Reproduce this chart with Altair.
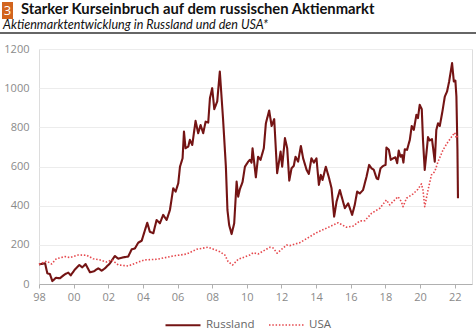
import altair as alt
import pandas as pd

ru_year = [1998.00, 1998.35, 1998.48, 1998.63, 1998.77, 1998.98, 1999.20, 1999.50, 1999.69, 1999.83,
           2000.08, 2000.33, 2000.50, 2000.69, 2000.94, 2001.17, 2001.42, 2001.62, 2001.81, 2002.10,
           2002.38, 2002.58, 2002.86, 2003.15, 2003.35, 2003.54, 2003.73, 2003.93, 2004.25, 2004.40,
           2004.60, 2004.79, 2004.98, 2005.17, 2005.37, 2005.56, 2005.75, 2005.89, 2006.04, 2006.14,
           2006.29, 2006.37, 2006.46, 2006.62, 2006.71, 2006.85, 2007.04, 2007.19, 2007.33, 2007.48,
           2007.62, 2007.77, 2007.87, 2008.00, 2008.12, 2008.29, 2008.44, 2008.63, 2008.79, 2008.88,
           2008.98, 2009.12, 2009.27, 2009.41, 2009.50, 2009.60, 2009.75, 2009.89, 2010.08, 2010.17,
           2010.27, 2010.33, 2010.52, 2010.65, 2010.79, 2010.98, 2011.10, 2011.29, 2011.43, 2011.58,
           2011.75, 2011.95, 2012.04, 2012.20, 2012.33, 2012.45, 2012.58, 2012.71, 2012.81, 2012.96,
           2013.12, 2013.25, 2013.45, 2013.58, 2013.73, 2013.87, 2014.02, 2014.16, 2014.27, 2014.37,
           2014.56, 2014.75, 2014.89, 2015.04, 2015.18, 2015.37, 2015.50, 2015.66, 2015.85, 2016.08,
           2016.23, 2016.37, 2016.52, 2016.71, 2016.81, 2016.91, 2017.06, 2017.20, 2017.33, 2017.49,
           2017.58, 2017.72, 2017.87, 2018.01, 2018.06, 2018.20, 2018.31, 2018.45, 2018.58, 2018.68,
           2018.77, 2018.87, 2018.96, 2019.04, 2019.12, 2019.25, 2019.41, 2019.52, 2019.64, 2019.79,
           2019.88, 2019.98, 2020.10, 2020.17, 2020.27, 2020.37, 2020.46, 2020.56, 2020.69, 2020.85,
           2020.94, 2021.04, 2021.14, 2021.29, 2021.43, 2021.56, 2021.68, 2021.85, 2021.95, 2022.04,
           2022.10, 2022.16, 2022.19]
ru_value = [100, 106, 55, 51, 15, 32, 29, 50, 58, 44,
            75, 97, 85, 102, 60, 65, 80, 68, 80, 106,
            143, 129, 136, 140, 177, 182, 211, 221, 313, 267,
            259, 327, 310, 353, 327, 378, 489, 472, 514, 599,
            642, 778, 693, 702, 736, 710, 833, 770, 812, 770,
            829, 824, 949, 1000, 893, 932, 1085, 838, 599, 378,
            301, 255, 310, 523, 446, 485, 520, 599, 625, 634,
            620, 693, 545, 650, 634, 693, 821, 886, 807, 842,
            566, 676, 599, 745, 693, 528, 591, 603, 650, 625,
            705, 642, 583, 562, 642, 620, 642, 506, 557, 531,
            599, 540, 489, 344, 421, 480, 438, 387, 412, 353,
            404, 472, 462, 480, 514, 548, 608, 591, 583, 540,
            535, 591, 603, 608, 697, 685, 634, 642, 647, 617,
            681, 650, 659, 620, 688, 685, 736, 807, 787, 864,
            847, 915, 893, 736, 583, 668, 750, 733, 740, 625,
            787, 821, 807, 880, 957, 983, 1034, 1128, 1034, 1039,
            957, 685, 438]

us_year = [1998.00, 1998.44, 1998.73, 1999.00, 1999.50, 1999.79, 2000.27, 2000.75, 2001.13, 2001.52,
           2001.90, 2002.20, 2002.58, 2003.15, 2003.64, 2004.10, 2004.79, 2005.75, 2006.52, 2007.10,
           2007.77, 2008.44, 2008.73, 2008.92, 2009.18, 2009.50, 2010.17, 2010.37, 2010.65, 2011.33,
           2011.52, 2011.75, 2012.29, 2012.48, 2013.06, 2014.02, 2014.79, 2015.27, 2015.75, 2016.14,
           2016.52, 2016.81, 2017.20, 2017.68, 2018.06, 2018.25, 2018.73, 2018.92, 2019.02, 2019.22,
           2019.60, 2019.88, 2020.08, 2020.17, 2020.27, 2020.46, 2020.66, 2020.85, 2021.04, 2021.33,
           2021.56, 2021.81, 2022.00, 2022.10, 2022.19]
us_value = [100, 117, 102, 129, 140, 135, 148, 147, 129, 123,
            112, 123, 97, 92, 109, 123, 126, 143, 153, 177,
            188, 165, 148, 114, 97, 126, 148, 160, 153, 188,
            184, 157, 199, 196, 211, 262, 293, 313, 290, 296,
            322, 323, 361, 387, 429, 404, 446, 421, 395, 438,
            460, 484, 511, 480, 395, 480, 557, 574, 625, 685,
            719, 750, 773, 745, 760]

series_names = ["Russland", "USA"]
series_colors = ["#741414", "#e5484d"]
x_ticks = [1998, 2000, 2002, 2004, 2006, 2008, 2010, 2012, 2014, 2016, 2018, 2020, 2022]
y_ticks = [0, 200, 400, 600, 800, 1000, 1200]

title_text = "Starker Kurseinbruch auf dem russischen Aktienmarkt"
subtitle_text = "Aktienmarktentwicklung in Russland und den USA*"
badge_text = "3"

df = pd.concat([
    pd.DataFrame({"year": ru_year, "value": ru_value, "series": series_names[0], "order": range(len(ru_year))}),
    pd.DataFrame({"year": us_year, "value": us_value, "series": series_names[1], "order": range(len(us_year))}),
])

FONT = "Open Sans"

legend_kw = dict(title=None, orient="none", legendX=125, legendY=257,
                 direction="horizontal", symbolType="stroke", symbolSize=1225,
                 labelFont=FONT, labelFontSize=11.5, labelColor="#666666",
                 columnPadding=10, labelOffset=4, symbolStrokeWidth=2)

lines = alt.Chart(df).mark_line(strokeJoin="round", strokeCap="butt").encode(
    x=alt.X("year:Q", scale=alt.Scale(domain=[1998, 2023], nice=False, zero=False),
            axis=alt.Axis(values=x_ticks, labelExpr="slice(toString(datum.value), 2)", title=None,
                          grid=False, domainColor="#b0b0b0", tickColor="#b0b0b0", tickSize=4,
                          labelColor="#8a8a8a", labelFontSize=11, labelFont=FONT, labelPadding=3,
                          labelFlush=False)),
    y=alt.Y("value:Q", scale=alt.Scale(domain=[0, 1200], nice=False),
            axis=alt.Axis(values=y_ticks, format="d", title=None, domain=False, ticks=False, grid=True,
                          gridColor="#ececec", gridWidth=1, labelColor="#8a8a8a", labelFontSize=11,
                          labelFont=FONT, labelPadding=10)),
    color=alt.Color("series:N", scale=alt.Scale(domain=series_names, range=series_colors),
                    legend=alt.Legend(**legend_kw)),
    strokeDash=alt.StrokeDash("series:N", scale=alt.Scale(domain=series_names, range=[[1, 0], [1.5, 1.8]]),
                              legend=alt.Legend(**legend_kw)),
    strokeWidth=alt.StrokeWidth("series:N", scale=alt.Scale(domain=series_names, range=[2.1, 1.6]), legend=None),
    order="order:Q",
)

head = pd.DataFrame({"t": [title_text], "s": [subtitle_text], "b": [badge_text]})
base_head = alt.Chart(head)

badge = base_head.mark_rect(color="#d2641e").encode(
    x=alt.value(-37), x2=alt.value(-26), y=alt.value(-47), y2=alt.value(-30))
badge_num = base_head.mark_text(color="white", font=FONT, fontSize=13, align="center", baseline="alphabetic").encode(
    text="b:N", x=alt.value(-31.5), y=alt.value(-34))
title = base_head.mark_text(color="#111111", font="Lato", fontWeight="bold", fontSize=14.8, align="left",
                            baseline="alphabetic").encode(text="t:N", x=alt.value(-18), y=alt.value(-35))
subtitle = base_head.mark_text(color="#111111", font="Lato", fontStyle="italic", fontSize=12.6, align="left",
                               baseline="alphabetic").encode(text="s:N", x=alt.value(-36), y=alt.value(-20))
rule = base_head.mark_rule(color="#333333", strokeWidth=1.3).encode(
    x=alt.value(-39), x2=alt.value(437), y=alt.value(-16))

chart = alt.layer(lines, badge, badge_num, title, subtitle, rule).properties(
    width=433, height=235,
    autosize=alt.AutoSizeParams(type="none"),
    padding={"left": 39, "top": 49, "right": 4, "bottom": 49},
).configure_view(stroke=None).configure(background="white")

chart.save("out.html", embed_options={"renderer": "svg", "actions": False})
